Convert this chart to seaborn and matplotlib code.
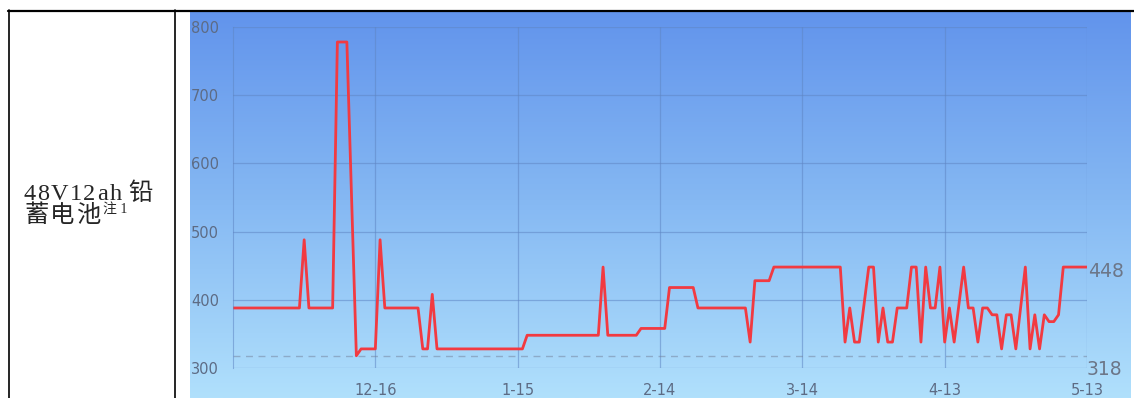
"""Price history chart for a 48V12ah lead-acid battery, drawn inside a table cell."""
import numpy as np
import matplotlib.pyplot as plt
import seaborn as sns
from matplotlib.lines import Line2D
from matplotlib.colors import LinearSegmentedColormap

# ---- data -------------------------------------------------------------
prices = (
    [388] * 15 + [488] + [388] * 6 + [778] * 3 + [548] + [318] + [328] * 4
    + [488] + [388] * 8 + [328] * 2 + [408] + [328] * 19 + [348] * 16
    + [448] + [348] * 7 + [358] * 6 + [418] * 6 + [388] * 11 + [338]
    + [428] * 4 + [448] * 15
    + [338, 388, 338, 338, 393, 448, 448, 338, 388, 338, 338, 388, 388, 388]
    + [448, 448, 338, 448, 388, 388, 448, 338, 388, 338, 393, 448, 388, 388]
    + [338, 388, 388, 378, 378, 328, 378, 378, 328, 388, 448, 328, 378, 328]
    + [378, 368, 368, 378] + [448] * 6
)
day_idx = list(range(len(prices)))
tick_idx = [30, 60, 90, 120, 150, 180]
tick_labels = ["12-16", "1-15", "2-14", "3-14", "4-13", "5-13"]
y_ticks = [300, 400, 500, 600, 700, 800]
row_label_1 = "48V12ah 铅"
row_label_2 = "蓄电池"
row_note = "注 1"

W, H = 1134, 398


def fx(px):
    return px / W


def fy(py):
    return 1 - py / H


sns.set_style("white")
plt.rcParams["font.family"] = ["DejaVu Sans", "Noto Sans CJK SC"]

fig = plt.figure(figsize=(W / 100, H / 100), dpi=100)
renderer = fig.canvas.get_renderer()

# gradient background of the chart image
bg = fig.add_axes([fx(190), fy(398), fx(1131) - fx(190), fy(12) - fy(398)])
grad = np.linspace(0, 1, 256).reshape(-1, 1)
cmap = LinearSegmentedColormap.from_list("bg", ["#6294ec", "#86b9f3", "#b0e0fc"])
bg.imshow(grad, aspect="auto", cmap=cmap, extent=[0, 1, 0, 1], origin="upper")
bg.set_axis_off()

# plot area
ax = fig.add_axes([fx(233), fy(368), fx(1087) - fx(233), fy(27) - fy(368)])
ax.patch.set_alpha(0)
sns.lineplot(x=day_idx, y=prices, ax=ax, color="#f23a41", linewidth=2.0)

grid_c = "#5f86c4"
ax.set_xlim(0, len(prices) - 1)
ax.set_ylim(300, 800)
ax.set_yticks(y_ticks)
ax.set_xticks(tick_idx)
ax.set_xticklabels(tick_labels)
ax.grid(True, color=grid_c, linewidth=0.9, alpha=0.55)
for s in ["top", "right", "bottom"]:
    ax.spines[s].set_visible(False)
ax.spines["left"].set_color(grid_c)
ax.spines["left"].set_alpha(0.55)
ax.tick_params(length=0, labelsize=10.5, colors="#5d6b84")
ax.tick_params(axis="y", pad=10)
ax.tick_params(axis="x", pad=11)
ax.set_xlabel("")
ax.set_ylabel("")

low = min(prices)
ax.axhline(low, color=(0.45, 0.5, 0.6, 0.5), linewidth=1, linestyle=(0, (5, 4)))
ax.annotate(str(prices[-1]), (day_idx[-1], prices[-1]), xytext=(1, -3),
            textcoords="offset points", ha="left", va="center",
            fontsize=13.5, color="#6c7688", annotation_clip=False)
ax.annotate(str(low), (day_idx[-1], low), xytext=(0, -10),
            textcoords="offset points", ha="left", va="center",
            fontsize=13.5, color="#6c7688", annotation_clip=False)

# table borders
lc = "black"
fig.add_artist(Line2D([fx(8), fx(1134)], [fy(10.5), fy(10.5)], color=lc, lw=1.6))
fig.add_artist(Line2D([fx(9), fx(9)], [fy(10), fy(398)], color=lc, lw=1.2))
fig.add_artist(Line2D([fx(175), fx(175)], [fy(10), fy(398)], color=lc, lw=1.2))

# row header text, spread out like a justified Word cell
serif = ["Liberation Serif", "Noto Sans CJK SC"]


def spaced_text(x, y, s, spacing, size):
    for ch in s:
        if ch == " ":
            x += size * 0.3
            continue
        t = fig.text(fx(x), fy(y), ch, family=serif, fontsize=size, va="baseline")
        x += t.get_window_extent(renderer).width + spacing
    return x


spaced_text(23, 200, row_label_1, 1.6, 17.5)
spaced_text(24, 222, row_label_2, 2.0, 17.5)
fig.text(fx(103), fy(213), row_note, family=serif, fontsize=10, va="baseline")

fig.savefig("out.png", dpi=100)
